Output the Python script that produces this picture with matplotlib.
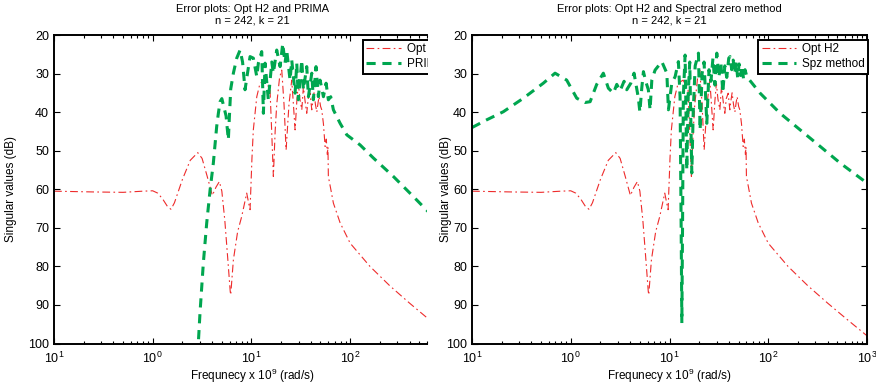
import numpy as np
import matplotlib
matplotlib.use("Agg")
import matplotlib.pyplot as plt
from matplotlib.patches import Rectangle
from matplotlib.ticker import FixedLocator, FixedFormatter, LogLocator, NullFormatter

plt.rcParams['font.family'] = ['Liberation Sans', 'DejaVu Sans']
plt.rcParams['mathtext.fontset'] = 'custom'
plt.rcParams['mathtext.rm'] = 'Liberation Sans'
plt.rcParams['mathtext.it'] = 'Liberation Sans:italic'

# --- data (log10 of frequency x 1e9 rad/s, singular values in dB) ---
opt_log_f = [-1.0, -0.6, -0.3, -0.1, 0.0, 0.05, 0.1, 0.15, 0.185, 0.22, 0.3, 0.38,
             0.456, 0.5, 0.55, 0.604, 0.64, 0.675, 0.7, 0.73, 0.76, 0.785, 0.79, 0.80,
             0.817, 0.86, 0.901, 0.952, 0.975, 0.986, 1.005, 1.019, 1.054, 1.087, 1.138,
             1.188, 1.205, 1.222, 1.24, 1.256, 1.285, 1.307, 1.33, 1.351, 1.38, 1.408,
             1.425, 1.442, 1.46, 1.475, 1.49, 1.51, 1.526, 1.545, 1.56, 1.575, 1.594,
             1.611, 1.622, 1.634, 1.648, 1.662, 1.675, 1.685, 1.70, 1.712, 1.729, 1.746,
             1.758, 1.769, 1.775, 1.779, 1.80, 1.83, 1.898, 2.0, 2.2, 2.4, 2.6, 2.8, 3.0]
opt_db = [60.5, 60.7, 60.8, 60.5, 60.4, 61.0, 62.5, 64.5, 65.2, 63.5, 57.5, 52.5,
          50.5, 52.0, 56.5, 61.6, 59.5, 58.0, 60.5, 68.0, 78.0, 86.5, 87.4, 84.0,
          78.3, 71.0, 67.1, 61.0, 64.0, 65.3, 52.0, 44.6, 36.0, 32.5, 31.7,
          34.2, 45.0, 56.7, 45.0, 38.0, 31.0, 29.1, 38.0, 49.8, 38.0, 31.7,
          38.0, 44.6, 37.0, 32.5, 36.5, 39.4, 33.4, 37.5, 40.3, 36.5, 35.1,
          39.4, 37.0, 35.0, 38.0, 40.0, 37.5, 36.0, 38.5, 39.4, 43.0, 48.9,
          47.0, 51.0, 49.0, 56.7, 59.5, 63.6, 68.7, 74.0, 80.0, 85.0, 89.5, 93.8, 98.0]

prima_log_f = [0.455, 0.479, 0.513, 0.547, 0.581, 0.614, 0.648, 0.665, 0.682, 0.70,
               0.743, 0.766, 0.775, 0.79, 0.817, 0.851, 0.885, 0.91, 0.935, 0.96,
               0.986, 1.019, 1.054, 1.07, 1.104, 1.121, 1.138, 1.171, 1.206, 1.222,
               1.256, 1.29, 1.317, 1.34, 1.357, 1.391, 1.408, 1.442, 1.459, 1.475,
               1.51, 1.526, 1.56, 1.577, 1.611, 1.627, 1.654, 1.678, 1.695, 1.729,
               1.756, 1.779, 1.803, 1.83, 1.898, 1.966, 2.1, 2.235, 2.438, 2.64, 2.77, 3.0]
prima_db = [103.0, 92.0, 79.0, 68.7, 60.2, 53.2, 43.7, 40.3, 37.3, 36.5,
            41.0, 47.2, 42.0, 34.0, 29.9, 26.0, 23.9, 27.0, 34.2, 29.9,
            25.6, 26.0, 30.8, 27.3, 24.3, 40.3, 27.3, 36.8, 27.0, 29.9,
            23.9, 28.2, 22.2, 27.3, 23.9, 31.7, 26.5, 35.1, 27.3, 36.8,
            26.5, 34.2, 28.2, 36.0, 29.9, 36.8, 28.2, 36.0, 31.7, 36.0,
            32.5, 36.8, 36.0, 39.4, 42.9, 45.9, 48.5, 51.9, 56.7, 61.9, 65.3, 71.0]

spz_log_f = [-1.0, -0.851, -0.683, -0.48, -0.278, -0.159, -0.041, 0.061, 0.145, 0.196,
             0.263, 0.33, 0.381, 0.432, 0.466, 0.499, 0.54, 0.567, 0.608, 0.641,
             0.685, 0.70, 0.719, 0.736, 0.76, 0.786, 0.803, 0.821, 0.854, 0.922,
             0.973, 0.989, 1.023, 1.057, 1.09, 1.107, 1.118, 1.125, 1.132, 1.14,
             1.158, 1.167, 1.175, 1.19, 1.205, 1.218, 1.226, 1.24, 1.26, 1.293,
             1.31, 1.33, 1.35, 1.378, 1.40, 1.42, 1.44, 1.46, 1.479, 1.50,
             1.52, 1.54, 1.56, 1.58, 1.60, 1.614, 1.63, 1.645, 1.66, 1.675,
             1.69, 1.705, 1.72, 1.735, 1.75, 1.765, 1.783, 1.918, 2.12, 2.323,
             2.526, 2.728, 3.0]
spz_db = [44.0, 42.0, 39.9, 36.4, 32.5, 29.9, 31.7, 36.4, 37.5, 37.3,
          32.8, 29.9, 33.8, 35.1, 32.8, 34.5, 32.0, 34.2, 32.5, 29.9,
          36.4, 40.0, 33.8, 29.5, 32.1, 34.2, 39.4, 31.7, 29.1, 26.9,
          29.9, 39.4, 32.5, 30.8, 26.9, 36.0, 70.0, 94.7, 70.0, 36.0,
          25.2, 40.0, 55.0, 35.0, 27.0, 45.0, 55.8, 40.0, 28.0, 24.7,
          44.6, 30.0, 27.0, 42.9, 29.0, 32.0, 26.0, 33.0, 24.7, 31.0,
          27.0, 35.0, 28.0, 31.0, 26.0, 25.6, 29.0, 26.5, 30.0, 27.0,
          31.0, 27.5, 30.5, 28.0, 31.5, 29.0, 30.8, 35.1, 40.3, 44.6,
          48.9, 53.2, 58.4]

red = '#ee2b2b'
green = '#00a64f'

W, H = 876, 387
fig = plt.figure(figsize=(W / 100, H / 100), dpi=100)
ax_bottom = 1 - 343.5 / H
ax_height = 308.5 / H
ax1 = fig.add_axes([54 / W, ax_bottom, 373 / W, ax_height])
ax2 = fig.add_axes([472 / W, ax_bottom, 395 / W, ax_height])


def style_axes(ax, xmax, ticks, ticklabels, right_box=True):
    ax.set_xscale('log')
    ax.set_xlim(0.1, xmax)
    ax.set_ylim(100, 20)
    ax.set_yticks([20, 30, 40, 50, 60, 70, 80, 90, 100])
    ax.xaxis.set_major_locator(FixedLocator(ticks))
    ax.xaxis.set_major_formatter(FixedFormatter(ticklabels))
    ax.xaxis.set_minor_locator(LogLocator(base=10, subs=np.arange(2, 10)))
    ax.xaxis.set_minor_formatter(NullFormatter())
    ax.tick_params(which='both', direction='in', top=True, right=right_box,
                   labelsize=9, width=0.8)
    ax.tick_params(which='major', length=4)
    ax.tick_params(which='minor', length=2.5)
    ax.tick_params(axis='x', pad=5)
    for s in ax.spines.values():
        s.set_linewidth(1.4)
    if not right_box:
        ax.spines['right'].set_visible(False)


legend_kw = dict(loc='upper right', borderaxespad=0, fontsize=8.5, handlelength=2.9,
                 labelspacing=0.25, borderpad=0.3, handletextpad=0.5,
                 fancybox=False, framealpha=1, edgecolor='black')

# left panel: Opt H2 vs PRIMA
ax1.plot(10 ** np.array(opt_log_f), opt_db, color=red, lw=0.8, dashes=(7, 3, 1.5, 3), label='Opt H2')
ax1.plot(10 ** np.array(prima_log_f), prima_db, color=green, lw=2.2, dashes=(3, 2.2), label='PRIMA')
style_axes(ax1, 600, [0.1, 1, 10, 100], ['$10^{1}$', '$10^{0}$', '$10^{1}$', '$10^{2}$'], right_box=False)
ax1.set_title('Error plots: Opt H2 and PRIMA\nn = 242, k = 21', fontsize=8, x=0.531, pad=8, linespacing=1.2)
ax1.set_xlabel('Frequnecy x 10$^9$ (rad/s)', fontsize=8.5)
ax1.xaxis.set_label_coords(0.531, -0.075)
ax1.set_ylabel('Singular values (dB)', fontsize=8.5)
ax1.yaxis.set_label_coords(-0.098, 0.5)
leg1 = ax1.legend(bbox_to_anchor=(1.055, 0.984), **legend_kw)
leg1.get_frame().set_linewidth(1.4)

# right panel: Opt H2 vs spectral zero method
ax2.plot(10 ** np.array(opt_log_f), opt_db, color=red, lw=0.8, dashes=(7, 3, 1.5, 3), label='Opt H2')
ax2.plot(10 ** np.array(spz_log_f), spz_db, color=green, lw=2.2, dashes=(3, 2.2), label='Spz method')
style_axes(ax2, 1000, [0.1, 1, 10, 100, 1000],
           ['$10^{1}$', '$10^{0}$', '$10^{1}$', '$10^{2}$', '$10^{3}$'])
ax2.set_title('Error plots: Opt H2 and Spectral zero method\nn = 242, k = 21', fontsize=8, pad=8, linespacing=1.2)
ax2.set_xlabel('Frequnecy x 10$^9$ (rad/s)', fontsize=8.5)
ax2.xaxis.set_label_coords(0.5, -0.075)
ax2.set_ylabel('Singular values (dB)', fontsize=8.5)
ax2.yaxis.set_label_coords(-0.05, 0.5)
leg2 = ax2.legend(bbox_to_anchor=(1.003, 0.984), **legend_kw)
leg2.get_frame().set_linewidth(1.4)

# the left panel is cut off at its right side in the source page
fig.patches.append(Rectangle((427.5 / W, 1 - 78 / H), 24 / W, 41 / H,
                             transform=fig.transFigure, facecolor='white',
                             edgecolor='none', zorder=10))

fig.savefig('out.png', dpi=100)
